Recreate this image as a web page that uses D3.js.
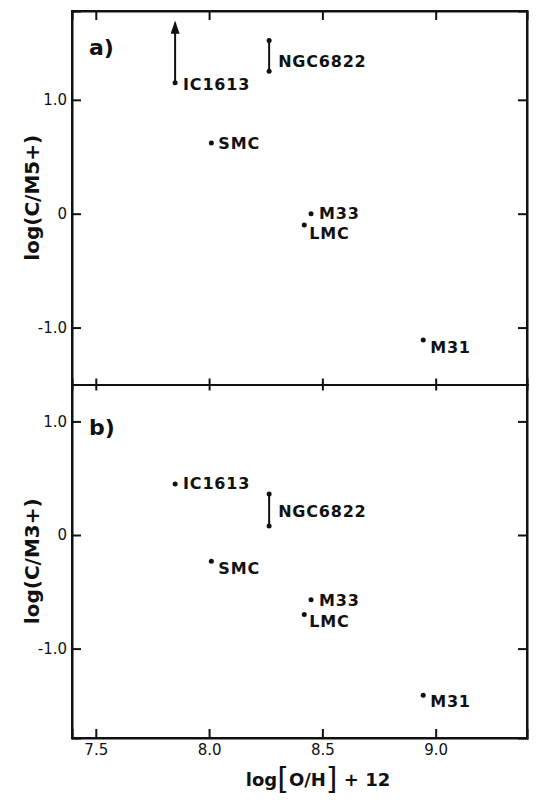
<!DOCTYPE html>
<html>
<head>
<meta charset="utf-8">
<script src="https://cdn.jsdelivr.net/npm/d3@7"></script>
<style>
  body { margin: 0; background: #fff; }
  svg text { font-family: "DejaVu Sans", "Liberation Sans", sans-serif; fill: #111; }
</style>
</head>
<body>
<div id="chart"></div>
<script>
// galaxies, in the same order in every array
var galaxies = ["IC1613", "NGC6822", "SMC", "M33", "LMC", "M31"];
var logOH = [7.85, 8.265, 8.01, 8.45, 8.42, 8.945];

// panel a: log(C/M5+), low end and high end (null = single point)
var cm5Lo = [1.15, 1.25, 0.62, 0.0, -0.10, -1.11];
var cm5Hi = [null, 1.52, null, null, null, null];
var cm5LowerLimit = [true, false, false, false, false, false]; // arrow up

// panel b: log(C/M3+)
var cm3Lo = [0.45, 0.08, -0.23, -0.57, -0.70, -1.41];
var cm3Hi = [null, 0.36, null, null, null, null];

var xTicks = [7.5, 8.0, 8.5, 9.0];
var yTicks = [-1.0, 0, 1.0];

var width = 560, height = 804;
var left = 72, right = 527;
var topA = 11, mid = 384.5, botB = 738;

var svg = d3.select("#chart").append("svg")
    .attr("width", width)
    .attr("height", height);

var defs = svg.append("defs");
defs.append("marker")
    .attr("id", "arrow")
    .attr("viewBox", "0 0 13 9")
    .attr("refX", 11).attr("refY", 4.5)
    .attr("markerWidth", 13).attr("markerHeight", 9)
    .attr("markerUnits", "userSpaceOnUse")
    .attr("orient", "auto")
    .append("path")
    .attr("d", "M0,0 L13,4.5 L0,9 Z")
    .attr("fill", "#111");

var x = d3.scaleLinear().domain([7.395, 9.403]).range([left, right]);
var yA = d3.scaleLinear().domain([-1.5, 1.78]).range([mid, topA]);
var yB = d3.scaleLinear().domain([-1.787, 1.325]).range([botB, mid]);

var fmt = function(d) { return d === 0 ? "0" : d.toFixed(1); };

// label placement, relative to the point (or the middle of a bar)
var labelOff = {
    "IC1613": [8, 2],
    "NGC6822": [9, 5],
    "SMC": [7, 0],
    "M33": [8, 0],
    "LMC": [5, 8],
    "M31": [7, 7]
};
var labelOffB = {
    "IC1613": [8, -1],
    "NGC6822": [9, 1.5],
    "SMC": [7, 7],
    "M33": [8, 0],
    "LMC": [5, 7],
    "M31": [7, 6]
};

function drawPanel(y, top, bottom, lo, hi, limit, offs, tag, tagY, yLabel) {
    var g = svg.append("g");

    // left & right axes, ticks pointing in
    g.append("g")
        .attr("class", "axis")
        .attr("transform", "translate(" + left + ",0)")
        .call(d3.axisLeft(y).tickValues(yTicks).tickFormat(fmt).tickSize(-9).tickPadding(5));
    g.append("g")
        .attr("class", "axis")
        .attr("transform", "translate(" + right + ",0)")
        .call(d3.axisRight(y).tickValues(yTicks).tickFormat("").tickSize(-9));

    g.append("text")
        .attr("transform", "translate(32," + ((top + bottom) / 2) + ") rotate(-90)")
        .attr("text-anchor", "middle")
        .attr("dy", "0.35em")
        .style("font-size", "20px")
        .style("font-weight", "bold")
        .text(yLabel);

    g.append("text")
        .attr("x", 89)
        .attr("y", tagY)
        .attr("dy", "0.35em")
        .style("font-size", "22px")
        .style("font-weight", "bold")
        .text(tag);

    var pts = galaxies.map(function(name, i) {
        return {name: name, x: logOH[i], lo: lo[i], hi: hi[i], limit: limit ? limit[i] : false};
    });

    // vertical bars for ranges
    g.selectAll(".range")
        .data(pts.filter(function(d) { return d.hi !== null; }))
        .enter().append("line")
        .attr("x1", function(d) { return x(d.x); })
        .attr("x2", function(d) { return x(d.x); })
        .attr("y1", function(d) { return y(d.lo); })
        .attr("y2", function(d) { return y(d.hi); })
        .attr("stroke", "#111")
        .attr("stroke-width", 2);

    g.selectAll(".hidot")
        .data(pts.filter(function(d) { return d.hi !== null; }))
        .enter().append("circle")
        .attr("cx", function(d) { return x(d.x); })
        .attr("cy", function(d) { return y(d.hi); })
        .attr("r", 2.5)
        .attr("fill", "#111");

    // lower limits get an arrow
    g.selectAll(".limit")
        .data(pts.filter(function(d) { return d.limit; }))
        .enter().append("line")
        .attr("x1", function(d) { return x(d.x); })
        .attr("x2", function(d) { return x(d.x); })
        .attr("y1", function(d) { return y(d.lo); })
        .attr("y2", function(d) { return y(d.lo) - 60; })
        .attr("stroke", "#111")
        .attr("stroke-width", 2)
        .attr("marker-end", "url(#arrow)");

    g.selectAll(".dot")
        .data(pts)
        .enter().append("circle")
        .attr("cx", function(d) { return x(d.x); })
        .attr("cy", function(d) { return y(d.lo); })
        .attr("r", 2.5)
        .attr("fill", "#111");

    g.selectAll(".lbl")
        .data(pts)
        .enter().append("text")
        .attr("x", function(d) { return x(d.x) + offs[d.name][0]; })
        .attr("y", function(d) {
            var base = d.hi !== null ? (y(d.lo) + y(d.hi)) / 2 : y(d.lo);
            return base + offs[d.name][1];
        })
        .attr("dy", "0.36em")
        .style("font-size", "16px")
        .style("font-weight", "bold")
        .style("letter-spacing", "0.8px")
        .text(function(d) { return d.name; });
}

drawPanel(yA, topA, mid, cm5Lo, cm5Hi, cm5LowerLimit, labelOff, "a)", 47, "log(C/M5+)");
drawPanel(yB, mid, botB, cm3Lo, cm3Hi, null, labelOffB, "b)", 427, "log(C/M3+)");

// x axes: top edge, the shared edge in the middle, and the bottom
svg.append("g")
    .attr("class", "axis")
    .attr("transform", "translate(0," + topA + ")")
    .call(d3.axisTop(x).tickValues(xTicks).tickFormat("").tickSize(-9));
svg.append("g")
    .attr("class", "axis")
    .attr("transform", "translate(0," + mid + ")")
    .call(d3.axisTop(x).tickValues(xTicks).tickFormat("").tickSize(6));
svg.append("g")
    .attr("class", "axis")
    .attr("transform", "translate(0," + mid + ")")
    .call(d3.axisBottom(x).tickValues(xTicks).tickFormat("").tickSize(6));
svg.append("g")
    .attr("class", "axis")
    .attr("transform", "translate(0," + botB + ")")
    .call(d3.axisBottom(x).tickValues(xTicks).tickFormat(fmt).tickSize(-9).tickPadding(6));

// frame
svg.append("rect")
    .attr("x", left).attr("y", topA)
    .attr("width", right - left).attr("height", botB - topA)
    .attr("fill", "none")
    .attr("stroke", "#111")
    .attr("stroke-width", 2);

svg.selectAll(".axis path").attr("stroke", "#111").attr("stroke-width", 2);
svg.selectAll(".axis line").attr("stroke", "#111").attr("stroke-width", 2);
svg.selectAll(".axis text")
    .style("font-size", "15px")
    .style("font-family", "'DejaVu Sans', sans-serif")
    .attr("fill", "#111");

// x label with tall brackets
var xl = svg.append("text")
    .attr("x", 318)
    .attr("y", 786)
    .attr("text-anchor", "middle")
    .style("font-size", "18px")
    .style("font-weight", "bold");
xl.append("tspan").text("log");
xl.append("tspan").style("font-size", "30px").style("font-weight", "normal").attr("dy", 3).text("[");
xl.append("tspan").attr("dy", -3).text("O/H");
xl.append("tspan").style("font-size", "30px").style("font-weight", "normal").attr("dy", 3).text("]");
xl.append("tspan").attr("dy", -3).text(" + 12");
</script>
</body>
</html>
